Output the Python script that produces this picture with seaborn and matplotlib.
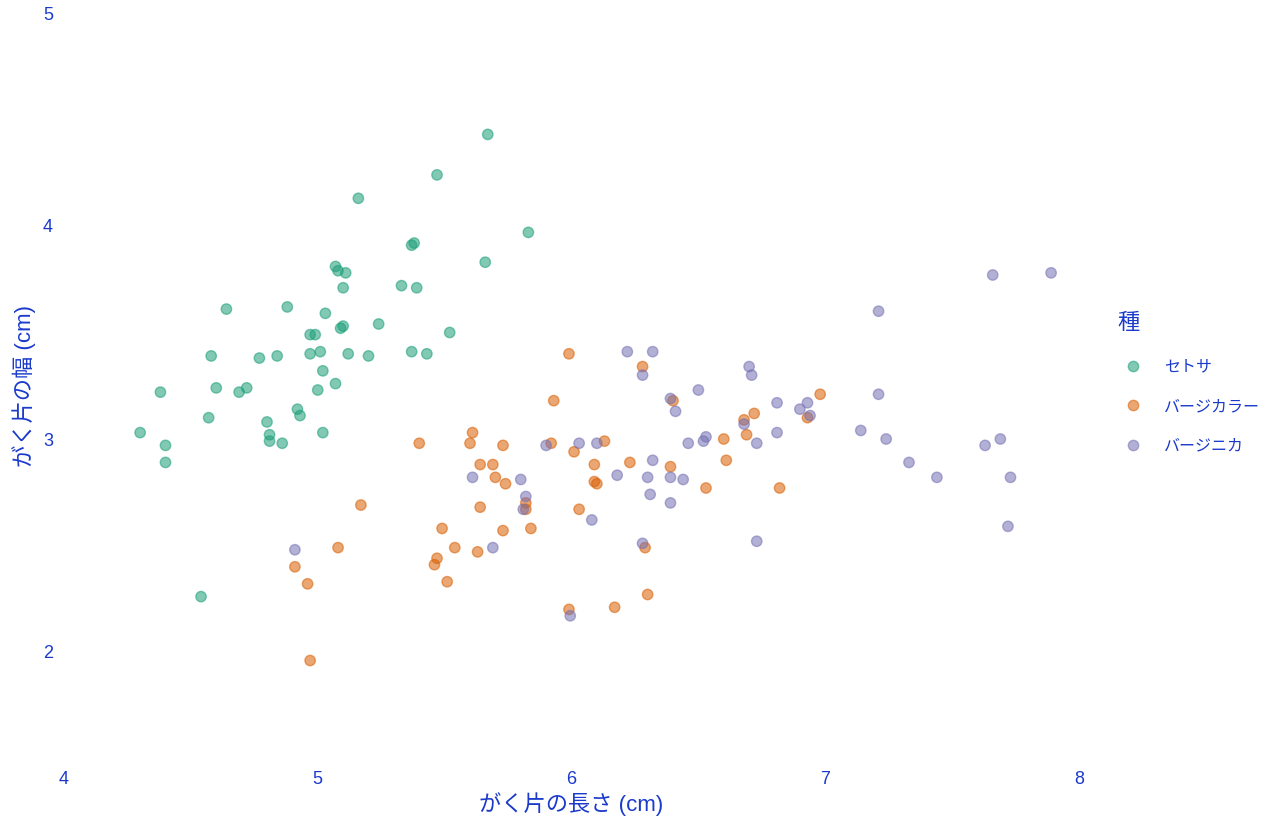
import matplotlib
matplotlib.use("Agg")
import matplotlib.pyplot as plt
import seaborn as sns
import pandas as pd

species_names = ["セトサ", "バージカラー", "バージニカ"]
colors = ["#1b9e77", "#d95f02", "#7570b3"]

setosa_x = [5.67, 5.47, 5.16, 5.83, 5.37, 5.38, 5.66, 5.07, 5.08, 5.11,
            5.10, 5.33, 5.39, 4.64, 4.88, 5.03, 5.09, 5.10, 5.24, 4.97,
            4.99, 4.58, 4.77, 4.84, 4.97, 5.01, 5.12, 5.20, 5.37, 5.43,
            5.02, 5.07, 5.00, 4.38, 4.60, 4.69, 4.72, 4.92, 4.93, 4.57,
            4.80, 5.02, 4.30, 4.81, 4.81, 4.86, 4.40, 4.40, 4.54, 5.52]
setosa_y = [4.43, 4.24, 4.13, 3.97, 3.91, 3.92, 3.83, 3.81, 3.79, 3.78,
            3.71, 3.72, 3.71, 3.61, 3.62, 3.59, 3.52, 3.53, 3.54, 3.49,
            3.49, 3.39, 3.38, 3.39, 3.40, 3.41, 3.40, 3.39, 3.41, 3.40,
            3.32, 3.26, 3.23, 3.22, 3.24, 3.22, 3.24, 3.14, 3.11, 3.10,
            3.08, 3.03, 3.03, 3.02, 2.99, 2.98, 2.97, 2.89, 2.26, 3.50]

versicolor_x = [5.99, 5.93, 5.61, 5.40, 5.60, 5.73, 5.92, 6.01, 6.13, 5.64,
                5.69, 5.70, 5.74, 6.09, 6.09, 6.10, 5.82, 5.64, 6.03, 5.49,
                5.73, 5.84, 5.54, 5.63, 5.47, 5.46, 5.51, 5.99, 6.17, 5.17,
                4.91, 4.96, 4.97, 5.08, 6.28, 6.40, 6.98, 6.93, 6.72, 6.68,
                6.69, 6.60, 6.61, 6.23, 6.39, 6.53, 6.82, 6.29, 6.30, 5.82]
versicolor_y = [3.40, 3.18, 3.03, 2.98, 2.98, 2.97, 2.98, 2.94, 2.99, 2.88,
                2.88, 2.82, 2.79, 2.88, 2.80, 2.79, 2.70, 2.68, 2.67, 2.58,
                2.57, 2.58, 2.49, 2.47, 2.44, 2.41, 2.33, 2.20, 2.21, 2.69,
                2.40, 2.32, 1.96, 2.49, 3.34, 3.18, 3.21, 3.10, 3.12, 3.09,
                3.02, 3.00, 2.90, 2.89, 2.87, 2.77, 2.77, 2.49, 2.27, 2.67]

virginica_x = [5.90, 6.03, 6.10, 5.61, 5.80, 5.82, 5.81, 6.18, 6.08, 5.69,
               5.995, 4.91, 6.22, 6.32, 6.28, 6.70, 6.71, 6.50, 6.39, 6.41,
               6.81, 6.93, 6.90, 6.94, 6.68, 6.81, 6.73, 6.46, 6.53, 6.52,
               6.32, 6.30, 6.39, 6.44, 6.31, 6.39, 6.28, 6.73, 7.66, 7.89,
               7.21, 7.21, 7.14, 7.24, 7.63, 7.69, 7.33, 7.44, 7.73, 7.72]
virginica_y = [2.97, 2.98, 2.98, 2.82, 2.81, 2.73, 2.67, 2.83, 2.62, 2.49,
               2.17, 2.48, 3.41, 3.41, 3.30, 3.34, 3.30, 3.23, 3.19, 3.13,
               3.17, 3.17, 3.14, 3.11, 3.07, 3.03, 2.98, 2.98, 3.01, 2.99,
               2.90, 2.82, 2.82, 2.81, 2.74, 2.70, 2.51, 2.52, 3.77, 3.78,
               3.60, 3.21, 3.04, 3.00, 2.97, 3.00, 2.89, 2.82, 2.82, 2.59]

x_ticks = [4, 5, 6, 7, 8]
y_ticks = [2, 3, 4, 5]
x_label = "がく片の長さ (cm)"
y_label = "がく片の幅 (cm)"
legend_title = "種"

df = pd.DataFrame({
    "x": setosa_x + versicolor_x + virginica_x,
    "y": setosa_y + versicolor_y + virginica_y,
    "species": [species_names[0]] * len(setosa_x)
               + [species_names[1]] * len(versicolor_x)
               + [species_names[2]] * len(virginica_x),
})

sns.set_theme(style="white")
plt.rcParams["font.family"] = ["Liberation Sans", "Noto Sans CJK JP", "DejaVu Sans"]
text_color = "#1a3acc"

fig = plt.figure(figsize=(12.8, 8.32), dpi=100)
ax = fig.add_axes([64 / 1280, 1 - 758.5 / 832, 1015 / 1280, 745.5 / 832])

sns.scatterplot(data=df, x="x", y="y", hue="species", hue_order=species_names,
                palette=dict(zip(species_names, colors)), alpha=0.55, s=56,
                linewidth=1.0, edgecolor=None, ax=ax)
for coll in ax.collections:
    coll.set_edgecolor(coll.get_facecolor())

ax.set_xlim(4, 8)
ax.set_ylim(1.5, 5)
ax.set_xticks(x_ticks)
ax.set_yticks(y_ticks)
ax.set_xticklabels([str(t) for t in x_ticks])
ax.set_yticklabels([str(t) for t in y_ticks])
ax.tick_params(axis="both", length=0, labelsize=13, labelcolor=text_color)
ax.tick_params(axis="x", pad=9)
ax.tick_params(axis="y", pad=8)
for sp in ax.spines.values():
    sp.set_visible(False)
ax.grid(False)
ax.set_xlabel(x_label, fontsize=16, color=text_color, labelpad=3)
ax.set_ylabel(y_label, fontsize=16, color=text_color, labelpad=5)

handles, labels = ax.get_legend_handles_labels()
leg = ax.legend(handles, labels, title=legend_title, loc="upper left",
                bbox_to_anchor=(1103 / 1280, 1 - 299 / 832),
                bbox_transform=fig.transFigure, frameon=False,
                fontsize=11.5, title_fontsize=16, labelspacing=1.55,
                handletextpad=0.9, handlelength=2.0, markerscale=1.0,
                alignment="left")
leg.get_title().set_color(text_color)
for t in leg.get_texts():
    t.set_color(text_color)

fig.savefig("out.png", dpi=100, facecolor="white")
